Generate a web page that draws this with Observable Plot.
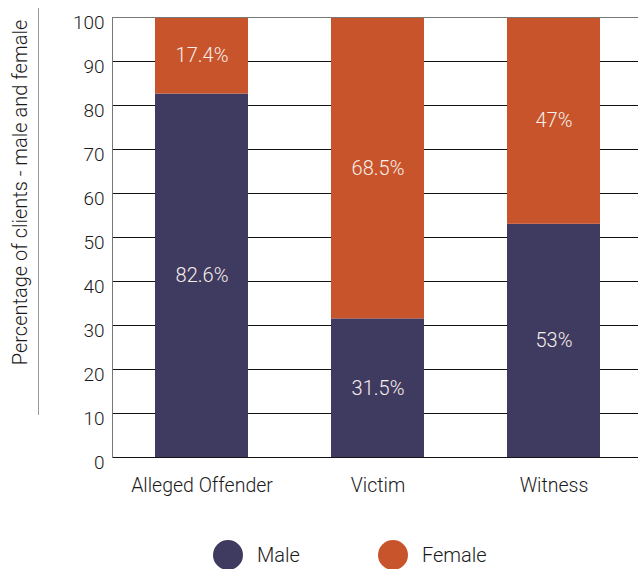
<!DOCTYPE html>
<html>
<head>
<meta charset="utf-8">
<script src="https://cdn.jsdelivr.net/npm/d3@7"></script>
<script src="https://cdn.jsdelivr.net/npm/@observablehq/plot@0.6"></script>
<style>
  html, body { margin: 0; padding: 0; background: #fff; }
  body { width: 638px; height: 569px; position: relative; overflow: hidden;
         font-family: Roboto, "Helvetica Neue", Arial, sans-serif; font-weight: 300; }
  #legend { position: absolute; top: 540px; left: 213px; display: flex; align-items: center;
            font-size: 20px; color: #1a1a1a; }
  .item { display: flex; align-items: center; }
  .swatch { width: 30px; height: 30px; border-radius: 50%; margin-right: 14px; }
</style>
</head>
<body>
<div id="chart"></div>
<div id="legend"></div>
<script>
// Client roles and their male / female split (percent)
const categories = ["Alleged Offender", "Victim", "Witness"];
const male = [82.6, 31.5, 53];
const female = [17.4, 68.5, 47];
const sexes = ["Male", "Female"];
const colors = ["#3f3a5f", "#c8542b"];
const yTicks = [0, 10, 20, 30, 40, 50, 60, 70, 80, 90, 100];
const yLabel = "Percentage of clients - male and female";

const data = categories.flatMap((c, i) => [
  {category: c, sex: "Male", value: male[i]},
  {category: c, sex: "Female", value: female[i]}
]);

const stack = {x: "category", y: "value", z: "sex", order: sexes};

const chart = Plot.plot({
  width: 638,
  height: 525,
  marginLeft: 112,
  marginRight: 0,
  marginTop: 17,
  marginBottom: 68,
  style: {fontFamily: "Roboto, 'Helvetica Neue', Arial, sans-serif", fontWeight: 300, color: "#1a1a1a", background: "#fff"},
  x: {domain: categories, range: [113.5, 641.5], paddingInner: 0.47, paddingOuter: 0.235, label: null},
  y: {domain: [0, 100], label: null},
  color: {domain: sexes, range: colors},
  marks: [
    Plot.gridY(yTicks, {stroke: "#111", strokeOpacity: 1}),
    Plot.barY(data, Plot.stackY({...stack, fill: "sex"})),
    Plot.text(data, Plot.stackY({...stack, text: d => `${d.value}%`, fill: "#f7eeea", fontSize: 20})),
    Plot.ruleY([100], {stroke: "#777"}),
    Plot.ruleY([0], {stroke: "#111"}),
    Plot.frame({anchor: "left", stroke: "#777"}),
    Plot.axisY(yTicks, {tickSize: 0, tickPadding: 8, fontSize: 19, dy: 5, label: null}),
    Plot.axisX({tickSize: 0, tickPadding: 21, fontSize: 19.5, label: null}),
    Plot.text([yLabel], {frameAnchor: "left", textAnchor: "middle", rotate: -90, dx: -92, dy: -45, fontSize: 20, fill: "#1a1a1a"})
  ]
});

// thin divider next to the vertical axis title
d3.select(chart).append("line")
  .attr("x1", 38.5).attr("x2", 38.5).attr("y1", 8).attr("y2", 415)
  .attr("stroke", "#9a9a9a").attr("stroke-width", 1);

document.getElementById("chart").appendChild(chart);

// legend
const legend = d3.select("#legend");
sexes.forEach((s, i) => {
  const item = legend.append("div").attr("class", "item")
    .style("margin-right", i === 0 ? "78px" : "0");
  item.append("div").attr("class", "swatch").style("background", colors[i]);
  item.append("span").text(s);
});
</script>
</body>
</html>
